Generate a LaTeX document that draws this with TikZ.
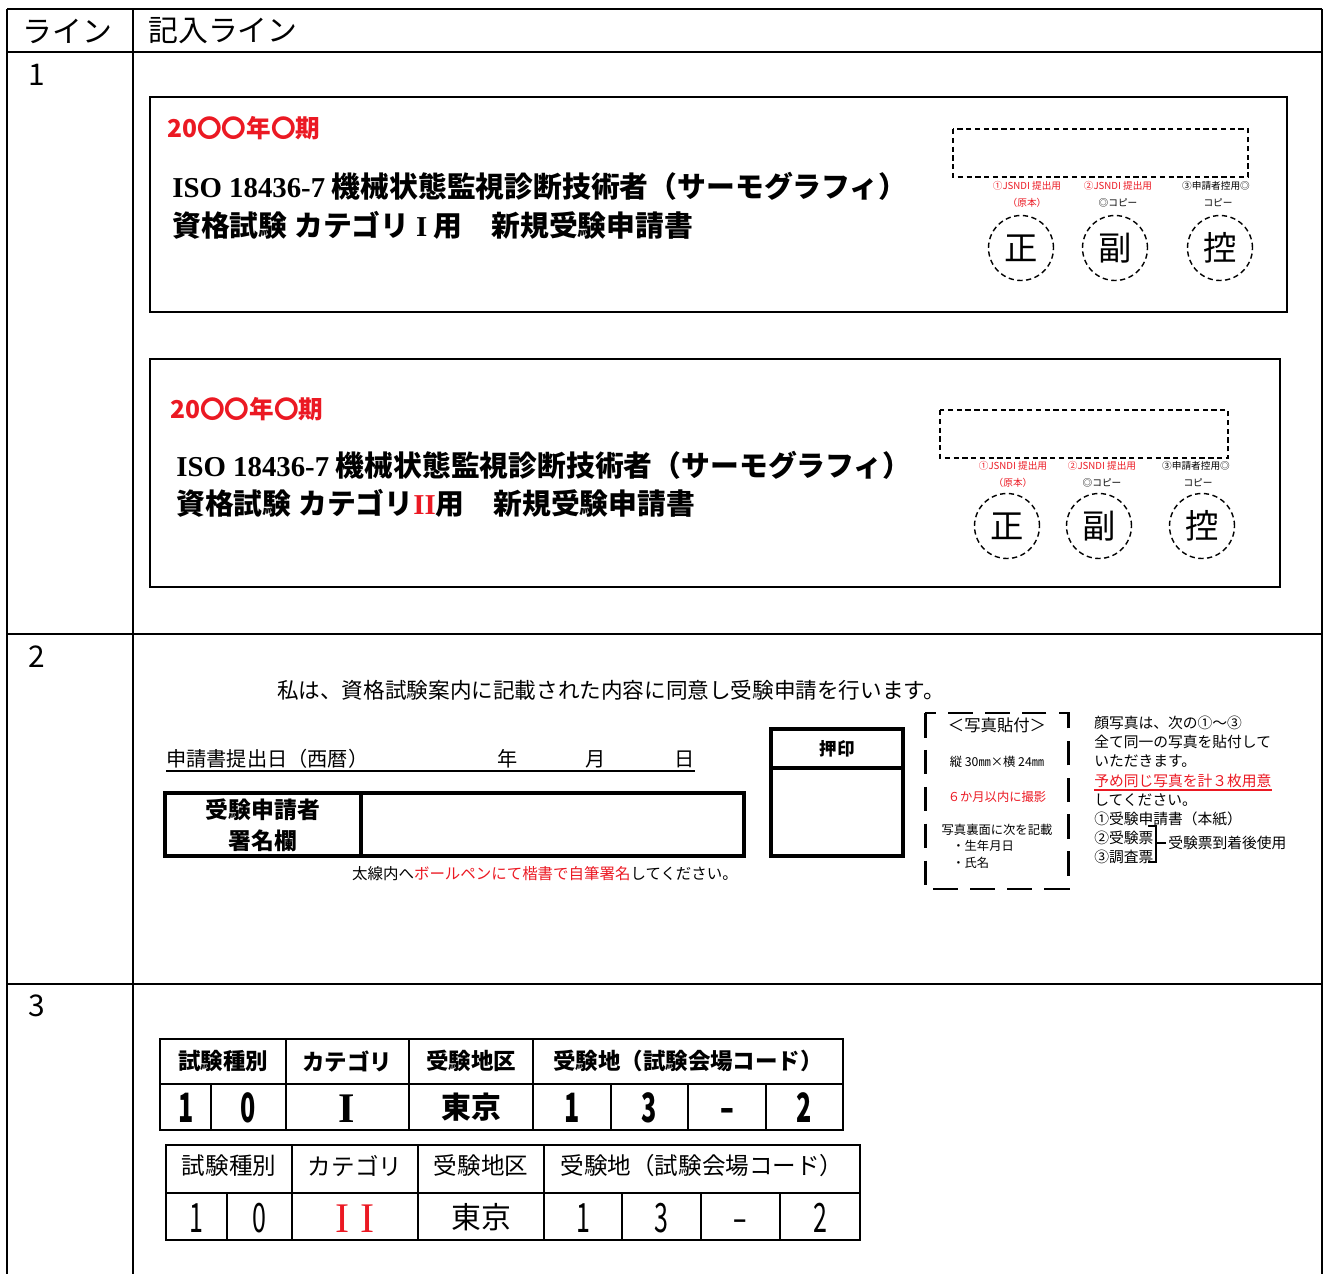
\documentclass[tikz,border=0pt]{standalone}
\usepackage{fontspec}
\setmainfont{Noto Sans CJK JP}
\newfontfamily\romanfont{Liberation Serif}
\newfontfamily\narrowfont[FakeStretch=0.62]{Noto Sans CJK JP}
\newcommand\fsz[1]{\fontsize{#1pt}{#1pt}\selectfont}
\definecolor{formred}{RGB}{235,25,35}

\begin{document}
\begin{tikzpicture}[x=0.02cm,y=-0.02cm,
  txt/.style={inner sep=0,anchor=west},
  mid/.style={inner sep=0},
  digit/.style={inner sep=0,anchor=base},
  stamp/.style={circle,draw,densely dashed,line width=0.8pt,minimum size=1.3cm,inner sep=0,font=\fsz{19}},
  frame/.style={line width=1.1pt},
  heavy/.style={line width=2.3pt},
  tbl/.style={line width=0.9pt}]
\useasboundingbox (0,0) rectangle (1323,1274);

% outer table
\draw[line width=1.2pt] (7,9) -- (1322,9);
\draw[line width=1.2pt] (7,52) -- (1322,52);
\draw[line width=1.2pt] (7,634) -- (1322,634);
\draw[line width=1.2pt] (7,984) -- (1322,984);
\draw[line width=1.2pt] (7,9) -- (7,1274);
\draw[line width=1.2pt] (133,9) -- (133,1274);
\draw[line width=1.2pt] (1322,9) -- (1322,1274);

\node[txt,font=\fsz{17}] (hLine) at (22,31) {ライン};
\node[txt,font=\fsz{17}] (hEntry) at (148,31) {記入ライン};
\node[mid,font=\fsz{17}] (num1) at (37,75) {1};
\node[mid,font=\fsz{17}] (num2) at (37,657) {2};
\node[mid,font=\fsz{17}] (num3) at (37,1006) {3};

% line 1, category I
\draw[frame] (150,97) rectangle (1287,312);
\node[txt,font=\fsz{14}\bfseries,text=formred] (termA) at (167,128) {20〇〇年〇期};
\node[txt,font=\fsz{16.4}\bfseries] (titleA1) at (172,186) {{\romanfont ISO 18436-7} 機械状態監視診断技術者（サーモグラフィ）};
\node[txt,font=\fsz{16.4}\bfseries] (titleA2) at (172,225) {資格試験 カテゴリ {\romanfont I} 用　新規受験申請書};
\draw[densely dashed,line width=1pt] (953,129) rectangle (1248,177);
\node[mid,font=\fsz{5.5},text=formred] (useA1) at (1027,186) {①JSNDI 提出用};
\node[mid,font=\fsz{5.5},text=formred] (useA2) at (1118,186) {②JSNDI 提出用};
\node[mid,font=\fsz{5.5}] (useA3) at (1216,186) {③申請者控用◎};
\node[mid,font=\fsz{5.5},text=formred] (useA4) at (1027,203) {（原本）};
\node[mid,font=\fsz{5.5}] (useA5) at (1118,203) {◎コピー};
\node[mid,font=\fsz{5.5}] (useA6) at (1218,203) {コピー};
\node[stamp] (seiA) at (1021,248) {正};
\node[stamp] (fukuA) at (1115,248) {副};
\node[stamp] (hikaA) at (1220,248) {控};

% line 1, category II
\draw[frame] (150,359) rectangle (1280,587);
\node[txt,font=\fsz{14}\bfseries,text=formred] (termB) at (170,409) {20〇〇年〇期};
\node[txt,font=\fsz{16.4}\bfseries] (titleB1) at (176,465) {{\romanfont ISO 18436-7} 機械状態監視診断技術者（サーモグラフィ）};
\node[txt,font=\fsz{16.4}\bfseries] (titleB2) at (176,503) {資格試験 カテゴリ{\romanfont\color{formred}II}用　新規受験申請書};
\draw[densely dashed,line width=1pt] (940,410) rectangle (1228,458);
\node[mid,font=\fsz{5.5},text=formred] (useB1) at (1013,466) {①JSNDI 提出用};
\node[mid,font=\fsz{5.5},text=formred] (useB2) at (1102,466) {②JSNDI 提出用};
\node[mid,font=\fsz{5.5}] (useB3) at (1196,466) {③申請者控用◎};
\node[mid,font=\fsz{5.5},text=formred] (useB4) at (1013,483) {（原本）};
\node[mid,font=\fsz{5.5}] (useB5) at (1102,483) {◎コピー};
\node[mid,font=\fsz{5.5}] (useB6) at (1198,483) {コピー};
\node[stamp] (seiB) at (1007,526) {正};
\node[stamp] (fukuB) at (1099,526) {副};
\node[stamp] (hikaB) at (1202,526) {控};

% line 2
\node[mid,font=\fsz{12.3}] (pledge) at (611,690) {私は、資格試験案内に記載された内容に同意し受験申請を行います。};
\node[txt,font=\fsz{11.5}] (dateLbl) at (166,759) {申請書提出日（西暦）};
\node[mid,font=\fsz{11.5}] (yr) at (508,759) {年};
\node[mid,font=\fsz{11.5}] (mo) at (596,759) {月};
\node[mid,font=\fsz{11.5}] (dy) at (685,759) {日};
\draw[line width=1pt] (166,771) -- (695,771);

\draw[heavy] (165,793) rectangle (744,856);
\draw[heavy] (361,793) -- (361,856);
\node[mid,font=\fsz{13}\bfseries] (signA) at (263,810) {受験申請者};
\node[mid,font=\fsz{13}\bfseries] (signB) at (263,841) {署名欄};
\node[mid,font=\fsz{8.8}] (penNote) at (545,874) {太線内へ\textcolor{formred}{ボールペンにて楷書で自筆署名}してください。};

\draw[heavy] (771,729) rectangle (903,856);
\draw[heavy] (771,768) -- (903,768);
\node[mid,font=\fsz{10}\bfseries] (sealLbl) at (837,749) {押印};

\draw[line width=1.7pt,dash pattern=on 14pt off 7pt] (925,713) rectangle (1068,889);
\node[mid,font=\fsz{9.3}] (photoT) at (997,725) {＜写真貼付＞};
\node[mid,font=\fsz{7}] (photoS) at (997,762) {縦 30㎜×横 24㎜};
\node[mid,font=\fsz{7},text=formred] (photoM) at (997,797) {６か月以内に撮影};
\node[mid,font=\fsz{7}] (photoB) at (997,830) {写真裏面に次を記載};
\node[txt,font=\fsz{7}] (photoB1) at (952,846) {・生年月日};
\node[txt,font=\fsz{7}] (photoB2) at (952,863) {・氏名};

\node[txt,font=\fsz{8.4}] (noteA) at (1094,723) {顔写真は、次の①～③};
\node[txt,font=\fsz{8.4}] (noteB) at (1094,742) {全て同一の写真を貼付して};
\node[txt,font=\fsz{8.4}] (noteC) at (1094,761) {いただきます。};
\node[txt,font=\fsz{8.4},text=formred] (noteD) at (1094,781) {予め同じ写真を計３枚用意};
\draw[formred,line width=0.8pt] ([yshift=-2pt]noteD.base west) -- ([yshift=-2pt]noteD.base east);
\node[txt,font=\fsz{8.4}] (noteE) at (1094,800) {してください。};
\node[txt,font=\fsz{8.4}] (noteF) at (1094,819) {①受験申請書（本紙）};
\node[txt,font=\fsz{8.4}] (noteG) at (1094,838) {②受験票};
\node[txt,font=\fsz{8.4}] (noteH) at (1094,857) {③調査票};
\draw[line width=0.8pt] (1148,826) -- (1156,826) -- (1156,862) -- (1148,862);
\draw[line width=0.8pt] (1156,843) -- (1166,843);
\node[txt,font=\fsz{8.4}] (noteI) at (1168,843) {受験票到着後使用};

% line 3, category I table
\draw[tbl] (160,1039) rectangle (843,1130);
\draw[tbl] (160,1084) -- (843,1084);
\foreach \x in {286,409,533} \draw[tbl] (\x,1039) -- (\x,1130);
\foreach \x in {211,611,688,766} \draw[tbl] (\x,1084) -- (\x,1130);
\node[mid,font=\fsz{12.8}\bfseries] (headA1) at (223,1061) {試験種別};
\node[mid,font=\fsz{12.8}\bfseries] (headA2) at (347,1061) {カテゴリ};
\node[mid,font=\fsz{12.8}\bfseries] (headA3) at (471,1061) {受験地区};
\node[mid,font=\fsz{12.8}\bfseries] (headA4) at (688,1061) {受験地（試験会場コード）};
\foreach \x/\v [count=\i] in {186/1,248/0,572/1,649/3,727/–,804/2}
  \node[digit,font=\narrowfont\fsz{23}\bfseries] (cellA\i) at (\x,1122) {\v};
\node[digit,font=\romanfont\fsz{24}\bfseries] (catA) at (347,1122) {I};
\node[mid,font=\fsz{17}\bfseries] (areaA) at (471,1107) {東京};

% line 3, category II table
\draw[tbl] (166,1145) rectangle (860,1240);
\draw[tbl] (166,1193) -- (860,1193);
\foreach \x in {292,418,544} \draw[tbl] (\x,1145) -- (\x,1240);
\foreach \x in {227,622,701,780} \draw[tbl] (\x,1193) -- (\x,1240);
\node[mid,font=\fsz{13.4}] (headB1) at (229,1166) {試験種別};
\node[mid,font=\fsz{13.4}] (headB2) at (355,1166) {カテゴリ};
\node[mid,font=\fsz{13.4}] (headB3) at (481,1166) {受験地区};
\node[mid,font=\fsz{13.4}] (headB4) at (702,1166) {受験地（試験会場コード）};
\foreach \x/\v [count=\i] in {196/1,259/0,583/1,661/3,740/–,820/2}
  \node[digit,font=\narrowfont\fsz{23}] (cellB\i) at (\x,1232) {\v};
\node[digit,font=\romanfont\fsz{24},text=formred] (catB) at (355,1232) {I I};
\node[mid,font=\fsz{17}] (areaB) at (481,1217) {東京};
\end{tikzpicture}
\end{document}
